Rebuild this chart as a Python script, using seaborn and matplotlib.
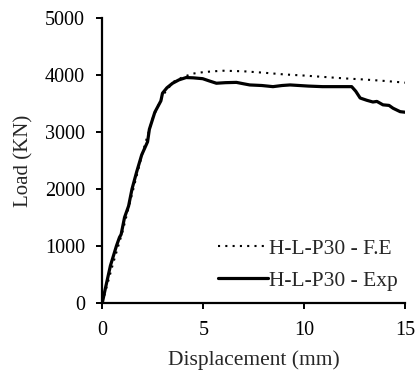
import numpy as np
import pandas as pd
import matplotlib
matplotlib.use("Agg")
import matplotlib.pyplot as plt
import seaborn as sns

# Data
fe_disp = [0, 0.5, 1.0, 1.5, 2.0, 2.5, 3.0, 3.5, 4.0, 4.5, 5.0, 5.5, 6.0, 7.0, 8.0, 9.0, 10.0, 11.0, 12.0, 13.0, 14.0, 15.0]
fe_load = [0, 650, 1250, 1950, 2650, 3250, 3650, 3880, 3970, 4030, 4055, 4070, 4080, 4070, 4045, 4015, 3995, 3970, 3945, 3925, 3900, 3870]

exp_disp = [0, 0.15, 0.4, 0.7, 0.85, 0.93, 1.1, 1.3, 1.47, 1.7, 1.95, 2.24, 2.33, 2.6, 2.9, 2.98, 3.2, 3.48, 3.8, 4.15, 4.5, 4.97, 5.3, 5.65, 6.1, 6.64, 7.0, 7.3, 7.9, 8.45, 8.9, 9.3, 10.2, 10.9, 11.6, 12.35, 12.55, 12.77, 13.1, 13.4, 13.6, 13.9, 14.2, 14.4, 14.75, 15.0]
exp_load = [0, 250, 650, 1000, 1150, 1200, 1500, 1700, 2000, 2300, 2600, 2830, 3050, 3350, 3550, 3685, 3780, 3860, 3920, 3960, 3955, 3940, 3900, 3860, 3870, 3875, 3850, 3830, 3820, 3800, 3820, 3830, 3810, 3800, 3800, 3800, 3720, 3600, 3560, 3530, 3540, 3480, 3470, 3420, 3360, 3350]

series_names = ["H-L-P30 - F.E", "H-L-P30 - Exp"]
x_ticks = [0, 5, 10, 15]
y_ticks = [0, 1000, 2000, 3000, 4000, 5000]

df = pd.concat([
    pd.DataFrame({"Displacement": fe_disp, "Load": fe_load, "Series": series_names[0]}),
    pd.DataFrame({"Displacement": exp_disp, "Load": exp_load, "Series": series_names[1]}),
], ignore_index=True)

sns.set_style("ticks")
plt.rcParams['font.family'] = ['Liberation Serif', 'DejaVu Serif']

fig = plt.figure(figsize=(4.16, 3.76), dpi=100)
ax = fig.add_axes([0.246, 0.195, 0.728, 0.756])

sns.lineplot(data=df, x="Displacement", y="Load", hue="Series", style="Series",
             hue_order=series_names, style_order=series_names,
             palette=["black", "black"], dashes=[(1, 2.5), ""],
             sort=False, estimator=None, ax=ax)

lines = ax.get_lines()
lines[0].set_linewidth(1.5)
lines[1].set_linewidth(2.3)

ax.set_xlim(0, 15)
ax.set_ylim(0, 5000)
ax.set_xticks(x_ticks)
ax.set_yticks(y_ticks)
ax.set_xlabel("Displacement (mm)", fontsize=15.5, labelpad=7)
ax.set_ylabel("Load (KN)", fontsize=15, labelpad=8)
ax.tick_params(axis='both', labelsize=14.5, direction='out', length=4.5, width=1.4, colors='black')
ax.tick_params(axis='y', pad=8)
ax.tick_params(axis='x', pad=9)
for s in ["left", "bottom"]:
    ax.spines[s].set_linewidth(1.6)
    ax.spines[s].set_color("black")
sns.despine(ax=ax)

leg = ax.legend(handles=ax.get_lines()[:2], labels=series_names, loc="lower right",
                bbox_to_anchor=(1.0, 0.015),
                frameon=False, fontsize=15.5, handlelength=2.3, handletextpad=0.05,
                labelspacing=0.55, borderaxespad=0.05, borderpad=0.3)

fig.savefig("out.png", dpi=100)
